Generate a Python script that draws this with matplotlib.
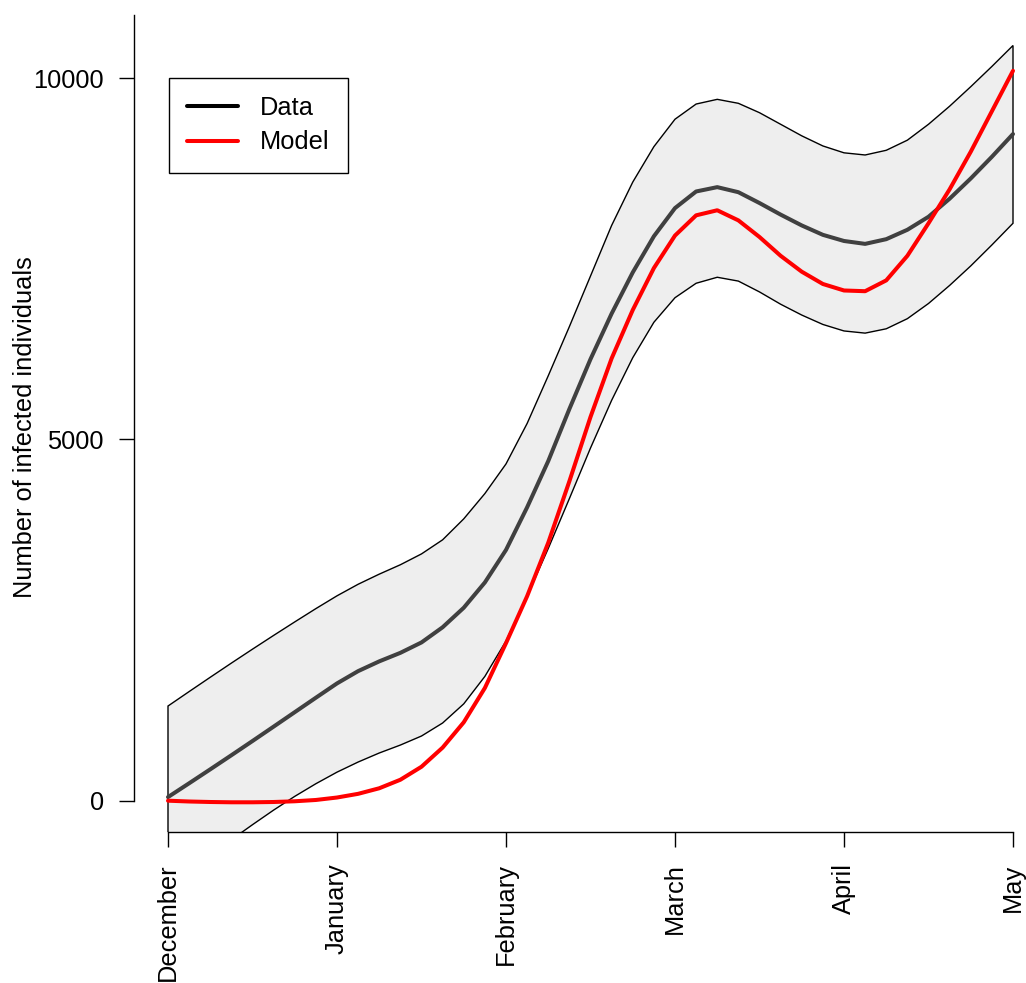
import numpy as np
import matplotlib
matplotlib.use("Agg")
import matplotlib.pyplot as plt
from matplotlib.lines import Line2D

plt.rcParams['font.family'] = ['Liberation Sans', 'DejaVu Sans']

months = ["December", "January", "February", "March", "April", "May"]
yticks = [0, 5000, 10000]

# sample times, in months after December (every 1/8 month)
t = np.linspace(0, 5, 41)

data_mid = [50, 241, 434, 629, 826, 1025, 1225, 1425, 1623, 1793, 1928, 2046, 2190,
            2400, 2670, 3020, 3470, 4060, 4700, 5420, 6110, 6740, 7310, 7810, 8200,
            8430, 8490, 8420, 8270, 8110, 7960, 7830, 7745, 7705, 7770, 7900, 8080,
            8330, 8610, 8910, 9225]
data_upper = [1310, 1510, 1708, 1904, 2097, 2287, 2474, 2658, 2835, 2995, 3135, 3265,
              3415, 3610, 3900, 4250, 4660, 5220, 5880, 6560, 7260, 7960, 8560, 9050,
              9430, 9640, 9705, 9650, 9520, 9360, 9200, 9060, 8965, 8935, 9000, 9140,
              9360, 9610, 9880, 10160, 10450]
data_lower = [-1170, -960, -750, -540, -332, -130, 60, 235, 395, 535, 660, 770, 895,
              1075, 1340, 1720, 2210, 2830, 3490, 4180, 4880, 5540, 6130, 6620, 6960,
              7160, 7243, 7190, 7040, 6870, 6720, 6590, 6500, 6470, 6530, 6670, 6880,
              7130, 7400, 7690, 7990]
model = [0, -11, -18, -22, -22, -18, -8, 10, 44, 95, 172, 290, 470, 735, 1085, 1560,
         2180, 2830, 3570, 4420, 5310, 6120, 6790, 7370, 7820, 8100, 8170, 8030, 7800,
         7540, 7320, 7150, 7060, 7050, 7200, 7540, 7990, 8460, 8980, 9540, 10100]

W, H = 1026, 983
fig = plt.figure(figsize=(W / 100, H / 100), dpi=100)
left_px, right_px = 134.2, 1046.8
bot_px, top_px = 831.7, 15
ax = fig.add_axes([left_px / W, 1 - bot_px / H, (right_px - left_px) / W, (bot_px - top_px) / H])
ax.set_xlim(-0.2, 5.2)
ax.set_ylim(-429, 10872)

px = np.concatenate([t, t[::-1]])
py = np.concatenate([data_upper, data_lower[::-1]])
ax.fill(px, py, facecolor='#EEEEEE', edgecolor='black', linewidth=1.0, zorder=1)

ax.plot(t, data_mid, color='#404040', lw=2.9, solid_capstyle='round',
        solid_joinstyle='round', zorder=3)
ax.plot(t, model, color='#FF0000', lw=2.9, solid_capstyle='round',
        solid_joinstyle='round', zorder=4)

for s in ['top', 'right']:
    ax.spines[s].set_visible(False)
ax.spines['left'].set_bounds(0, 10872)
ax.spines['bottom'].set_bounds(0, 5)
for s in ['left', 'bottom']:
    ax.spines[s].set_linewidth(1.0)

ax.set_xticks(range(len(months)))
ax.set_xticklabels(months, rotation=90, fontsize=18.3)
ax.set_yticks(yticks)
ax.set_yticklabels([str(v) for v in yticks], fontsize=18.3)
ax.tick_params(axis='both', direction='out', length=10.8, width=1.0)
ax.tick_params(axis='y', pad=11)
ax.tick_params(axis='x', pad=12)

fig.text(25 / W, 1 - 427 / H, "Number of infected individuals", rotation=90,
         ha='center', va='center', fontsize=18.3)

handles = [Line2D([], [], color='black', lw=2.9, solid_capstyle='round'),
           Line2D([], [], color='#FF0000', lw=2.9, solid_capstyle='round')]
leg = ax.legend(handles, ["Data", "Model"], loc='upper left',
                bbox_to_anchor=(169 / W, 1 - 78 / H), bbox_transform=fig.transFigure,
                borderaxespad=0, fontsize=18.3, fancybox=False, framealpha=1,
                edgecolor='black', handlelength=2.0, handletextpad=0.85,
                borderpad=0.72, labelspacing=0.4)
leg.get_frame().set_linewidth(1.0)

fig.savefig("out.png", dpi=100)
